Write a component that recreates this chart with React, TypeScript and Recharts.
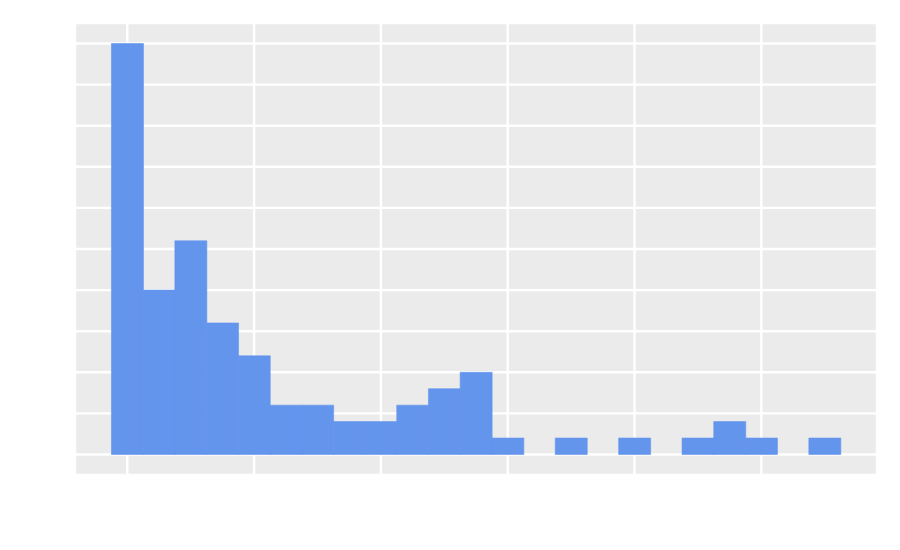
import React from "react";
import { BarChart, Bar, XAxis, YAxis, CartesianGrid } from "recharts";

const binCenters = [0, 1, 2, 3, 4, 5, 6, 7, 8, 9, 10, 11, 12, 13, 14, 15, 16, 17, 18, 19, 20, 21, 22];
const counts = [25, 10, 13, 8, 6, 3, 3, 2, 2, 3, 4, 5, 1, 0, 1, 0, 1, 0, 1, 2, 1, 0, 1];
const xTicks = [0, 4, 8, 12, 16, 20];
const yTicks = [0, 2.5, 5, 7.5, 10, 12.5, 15, 17.5, 20, 22.5, 25];

const data = binCenters.map((x, i) => ({ x, count: counts[i] }));

export default function App() {
  return (
    <div style={{ width: 884, height: 534 }}>
      <BarChart
        width={884}
        height={534}
        data={data}
        margin={{ top: 15, right: 15, bottom: 67, left: 67 }}
        barCategoryGap={0}
        barGap={0}
      >
        <CartesianGrid fill="#EBEBEB" stroke="#FFFFFF" strokeWidth={2.4} />
        <XAxis
          dataKey="x"
          type="number"
          domain={[-1.65, 23.65]}
          ticks={xTicks}
          allowDataOverflow
          hide
        />
        <YAxis type="number" domain={[-1.25, 26.25]} ticks={yTicks} allowDataOverflow hide />
        <Bar
          dataKey="count"
          fill="#6495ED"
          stroke="#6495ED"
          strokeWidth={0.6}
          isAnimationActive={false}
        />
      </BarChart>
    </div>
  );
}
